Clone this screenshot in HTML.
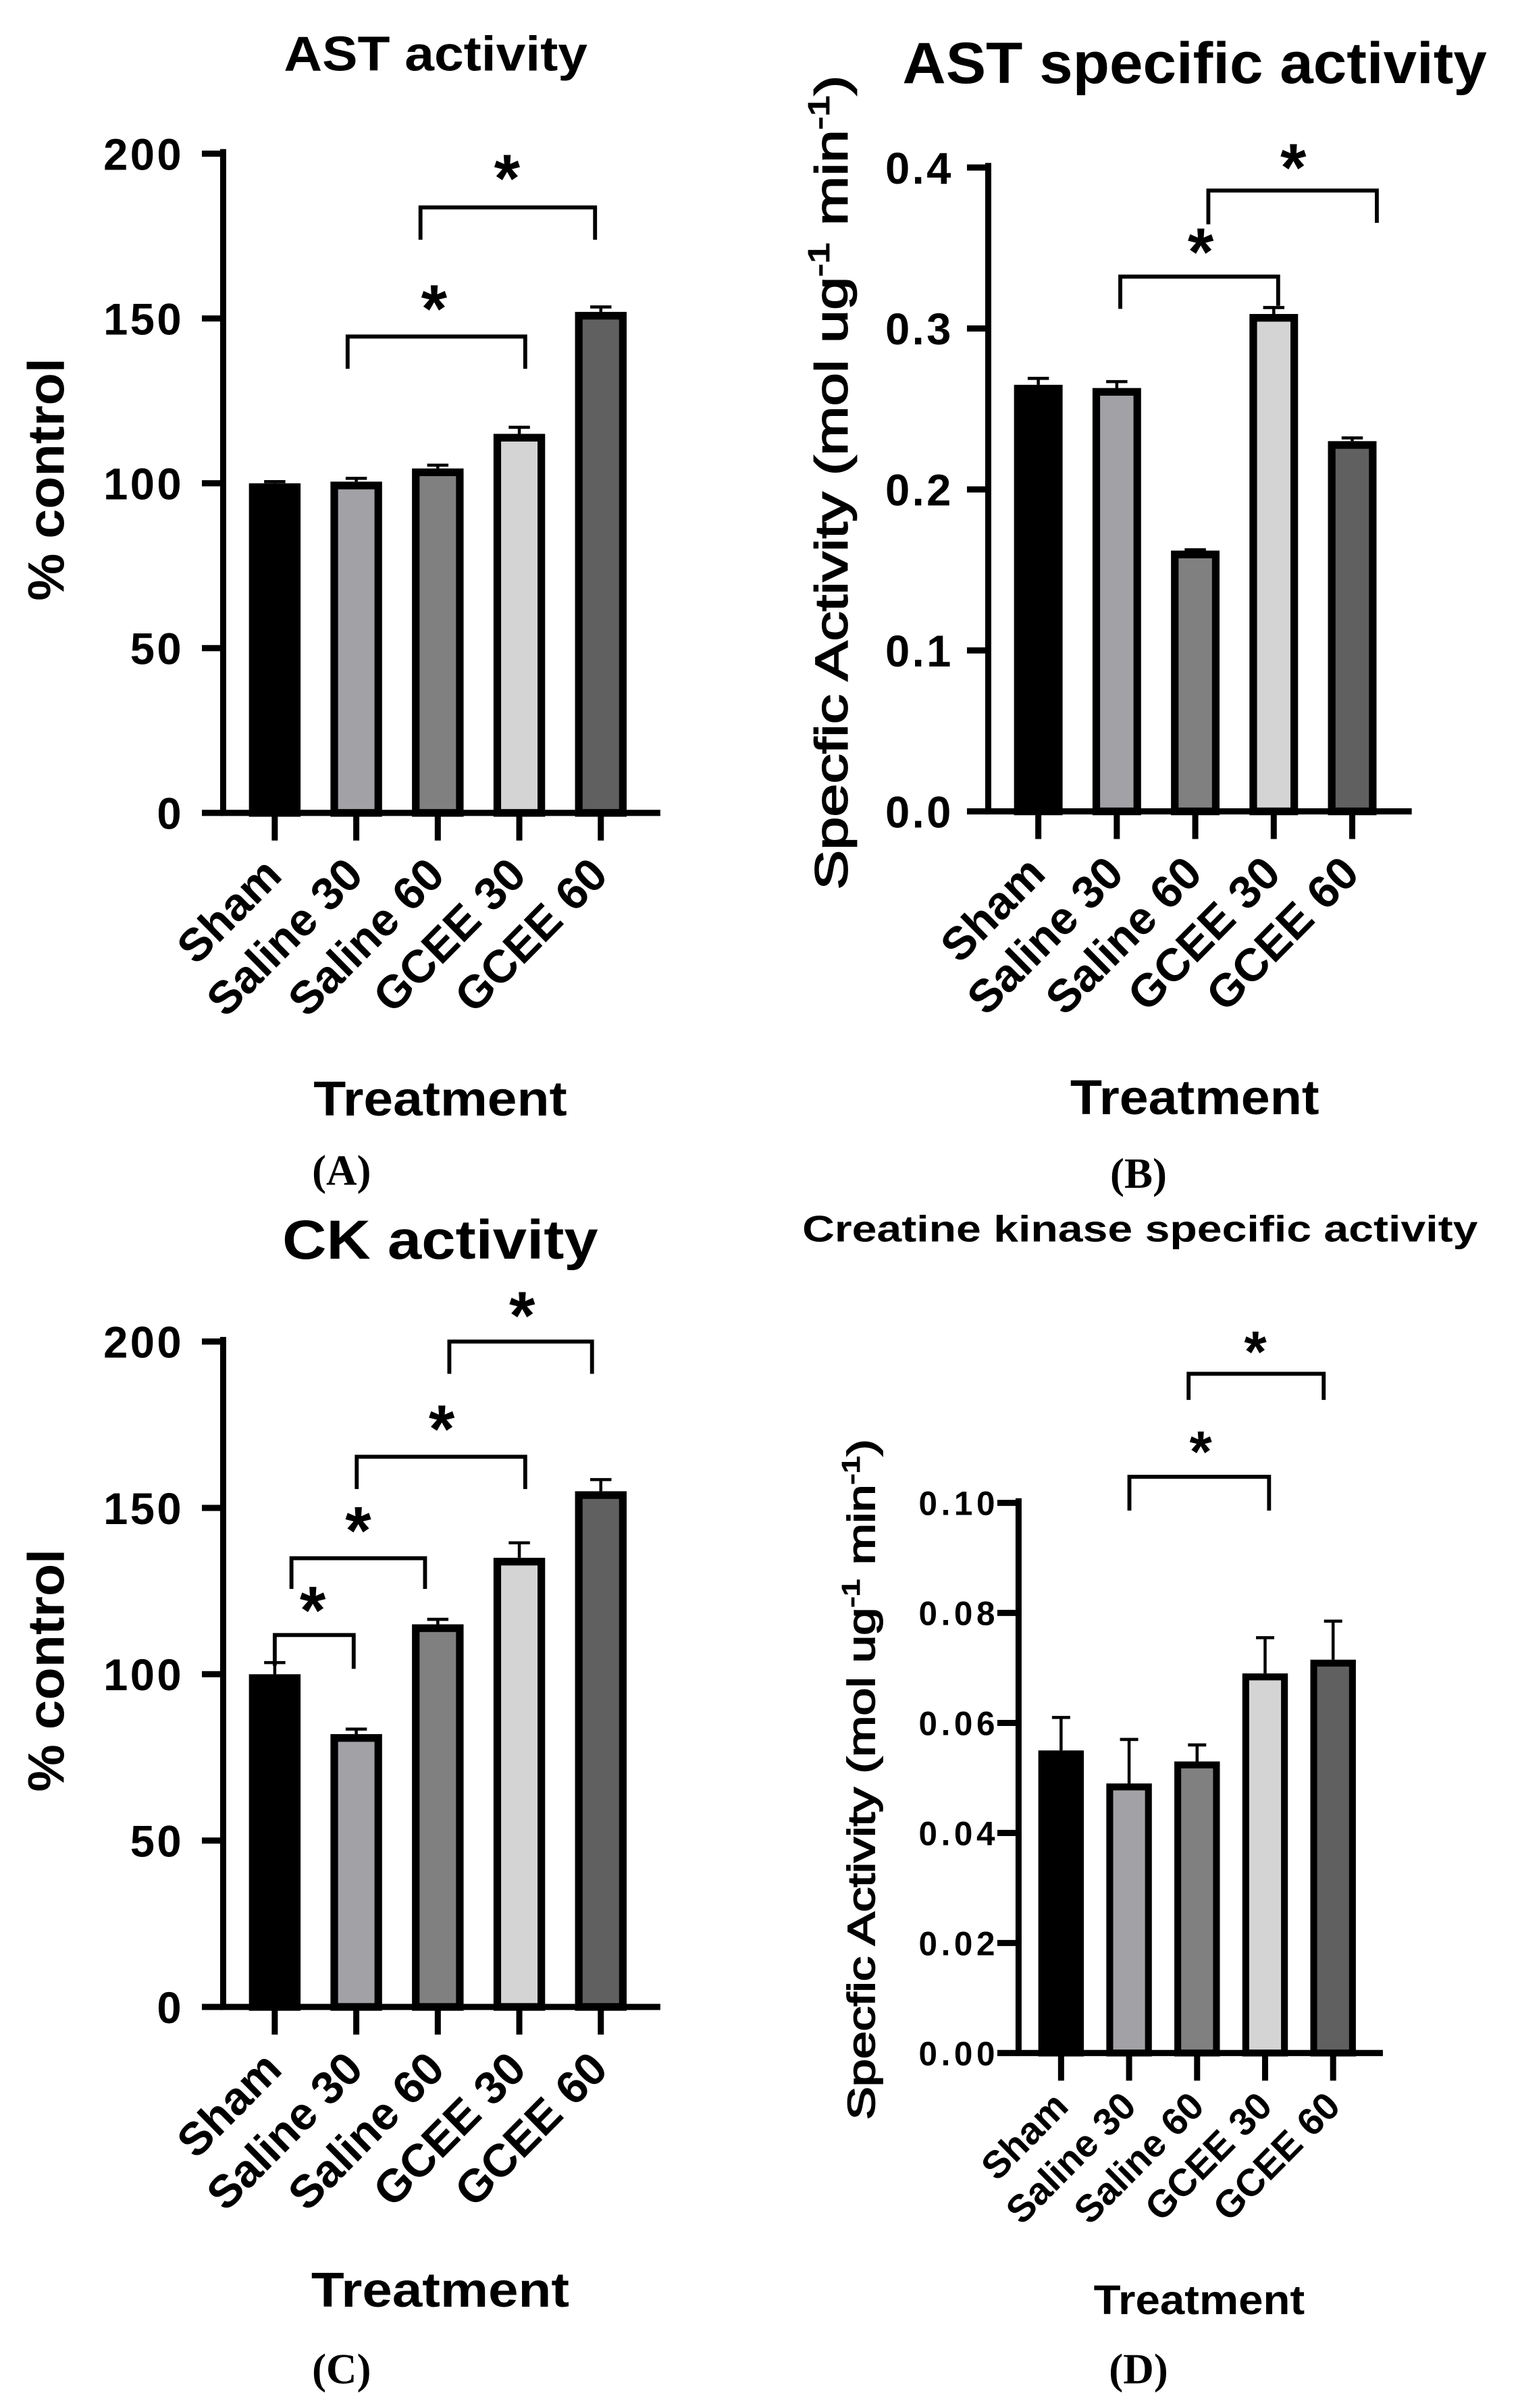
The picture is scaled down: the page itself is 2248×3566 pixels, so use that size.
<!DOCTYPE html>
<html><head><meta charset="utf-8"><style>
html,body{margin:0;padding:0;background:#fff}
svg{display:block}
text{font-family:"Liberation Sans",Arial,sans-serif;font-weight:bold;fill:#000}
.ser{font-family:"Liberation Serif","Times New Roman",serif;font-weight:bold}
</style></head><body>
<svg id="fig" width="2248" height="3566" viewBox="0 -1 1000 1567" preserveAspectRatio="none" xmlns="http://www.w3.org/2000/svg"></svg>
<script>
const categories = ["Sham","Saline 30","Saline 60","GCEE 30","GCEE 60"];
const fills = ["#000000","#a1a1a6","#808080","#d4d4d4","#606060"];

const valuesA = [100, 100.5, 104.5, 115, 152];
const errorsA = [0.5, 1, 1, 2, 1.5];
const ticksA = [0, 50, 100, 150, 200];
const tickLabelsA = ["0","50","100","150","200"];

const valuesB = [0.265, 0.263, 0.162, 0.309, 0.230];
const errorsB = [0.004, 0.004, 0.0005, 0.004, 0.002];
const ticksB = [0, 0.1, 0.2, 0.3, 0.4];
const tickLabelsB = ["0.0","0.1","0.2","0.3","0.4"];

const valuesC = [100, 82, 115, 135, 155];
const errorsC = [3.5, 1.5, 1.5, 4.5, 3.5];
const ticksC = [0, 50, 100, 150, 200];
const tickLabelsC = ["0","50","100","150","200"];

const valuesD = [0.055, 0.049, 0.053, 0.069, 0.0715];
const errorsD = [0.006, 0.008, 0.003, 0.0065, 0.007];
const ticksD = [0, 0.02, 0.04, 0.06, 0.08, 0.10];
const tickLabelsD = ["0.00","0.02","0.04","0.06","0.08","0.10"];

const NS = "http://www.w3.org/2000/svg";
const svg = document.getElementById("fig");
function mk(tag, attrs, parent, txt){
  const e = document.createElementNS(NS, tag);
  for (const k in attrs) e.setAttribute(k, attrs[k]);
  if (txt !== undefined) e.textContent = txt;
  (parent || svg).appendChild(e);
  return e;
}

function panel(p){
  const g = mk("g", {});
  
  
  const y = v => p.y0 - (v - p.min) / (p.max - p.min) * (p.y0 - p.yTop);
  const x = i => p.x0 + i * p.step;
  p.values.forEach((v, i) => {
    const bw = p.bw, sw = p.bs;
    const r = mk("rect", {x: x(i) - bw/2 + sw/2, y: y(v) + sw/2, width: bw - sw, height: p.y0 - y(v) - sw/2, fill: fills[i], stroke: "#000", "stroke-width": sw}, g);
    
    
    const e = p.errors[i];
    const ep = mk("path", {d: `M${x(i)} ${y(v)} V${y(v + e)} M${x(i) - p.cap} ${y(v + e)} H${x(i) + p.cap}`, stroke: "#000", "stroke-width": 2, fill: "none"}, g);
    
    
  });
  const ax = mk("path", {d: `M${p.ax} ${p.yTop - 1} V${p.y0} H${p.axEnd}`, stroke: "#000", "stroke-width": 4, fill: "none", "stroke-linecap": "square"}, g);
  
  
  p.ticks.forEach((t, i) => {
    mk("line", {x1: p.ax - 14, x2: p.ax, y1: y(t), y2: y(t), stroke: "#000", "stroke-width": 4}, g);
    const tl = mk("text", {x: p.tlx, y: y(t) + p.tfs * 0.36, "text-anchor": "end", "font-size": p.tfs, "letter-spacing": p.tls}, g, p.tickLabels[i]);
    
    
  });
  categories.forEach((c, i) => {
    mk("line", {x1: x(i), x2: x(i), y1: p.y0, y2: p.y0 + 18, stroke: "#000", "stroke-width": 4}, g);
    const ex = x(i) + 6, ey = p.y0 + p.lblDy;
    const t = mk("text", {x: ex, y: ey, "text-anchor": "end", "font-size": p.cfs, transform: `rotate(-45 ${ex} ${ey})`}, g, c);
    
    
  });
  p.brackets.forEach(b => {
    const bp = mk("path", {d: `M${b[0]} ${b[3]} V${b[2]} H${b[1]} V${b[4]}`, stroke: "#000", "stroke-width": 2.6, fill: "none"}, g);
    
    
    const st = mk("text", {x: b[5], y: b[6] + p.sfs * 0.57, "text-anchor": "middle", "font-size": p.sfs}, g, "*");
    
    
  });
  const tt = mk("text", {x: p.title[1], y: p.title[2], "text-anchor": "middle", "font-size": p.title[3], textLength: p.title[4], lengthAdjust: "spacingAndGlyphs"}, g, p.title[0]);
  
  
  const yl = mk("text", {x: 0, y: 0, "text-anchor": "middle", "font-size": p.ylab[3], textLength: p.ylab[4], lengthAdjust: "spacingAndGlyphs", transform: `translate(${p.ylab[1]} ${p.ylab[2]}) rotate(-90)`}, g);
  if (p.ylab[0] === "sa") {
    mk("tspan", {}, yl, "Specfic Activity (mol ug");
    mk("tspan", {dy: -p.ylab[3]*0.4, "font-size": p.ylab[3]*0.65}, yl, "-1");
    mk("tspan", {dy: p.ylab[3]*0.4}, yl, " min");
    mk("tspan", {dy: -p.ylab[3]*0.4, "font-size": p.ylab[3]*0.65}, yl, "-1");
    mk("tspan", {dy: p.ylab[3]*0.4}, yl, ")");
    yl.setAttribute("style", "font-weight:normal;stroke:#000;stroke-width:0.8");
  } else {
    yl.textContent = p.ylab[0];
  }
  
  
  const xl = mk("text", {x: p.xlab[0], y: p.xlab[1], "text-anchor": "middle", "font-size": p.xlab[2], textLength: p.xlab[3], lengthAdjust: "spacingAndGlyphs"}, g, "Treatment");
  
  
  const pl = mk("text", {x: p.letter[1], y: p.letter[2], "text-anchor": "middle", "font-size": 28, class: "ser"}, g, p.letter[0]);
  
  
}

panel({id:"panel-a", values: valuesA, errors: errorsA, ticks: ticksA, tickLabels: tickLabelsA,
  min:0, max:200, y0:528, yTop:99, x0:181, step:53.7, bw:34, bs:5, cap:7,
  ax:147, axEnd:433, tlx:121, tfs:29, tls:1.5, cfs:30, lblDy:42, sfs:44,
  brackets:[[229,346,218,239,239,286,190],[277,392,134,155,155,334,105]],
  title:["AST activity",287,45,32,200], ylab:["% control",42,311,34,158],
  xlab:[290,725,32,167], letter:["(A)",225,770]});

panel({id:"panel-b", values: valuesB, errors: errorsB, ticks: ticksB, tickLabels: tickLabelsB,
  min:0, max:0.4, y0:527, yTop:108, x0:684, step:51.7, bw:32, bs:5, cap:7,
  ax:651, axEnd:928, tlx:628, tfs:29, tls:1.5, cfs:30, lblDy:42, sfs:44,
  brackets:[[738,842,179,200,198,791,153],[796,907,123,145,144,852,98]],
  title:["AST specific activity",787,53,38,385], ylab:["sa",558,313,30,530],
  xlab:[787,724,32,164], letter:["(B)",750,772]});

panel({id:"panel-c", values: valuesC, errors: errorsC, ticks: ticksC, tickLabels: tickLabelsC,
  min:0, max:200, y0:1305, yTop:872, x0:181, step:53.7, bw:34, bs:5, cap:7,
  ax:147, axEnd:433, tlx:121, tfs:29, tls:1.5, cfs:30, lblDy:42, sfs:44,
  brackets:[[181,233,1063,1083,1085,206,1037],[192,280,1013,1033,1033,236,985],[235,346,947,968,968,291,919],[296,390,872,893,893,344,845]],
  title:["CK activity",290,818,36,208], ylab:["% control",42,1086,34,158],
  xlab:[290,1500,32,170], letter:["(C)",225,1550]});

panel({id:"panel-d", values: valuesD, errors: errorsD, ticks: ticksD, tickLabels: tickLabelsD,
  min:0, max:0.10, y0:1335, yTop:977, x0:699, step:44.8, bw:30, bs:4.5, cap:6,
  ax:671, axEnd:909, tlx:658, tfs:22, tls:2.5, cfs:25, lblDy:36, sfs:38,
  brackets:[[744,836,960,982,982,791,935],[783,872,893,910,910,827,870]],
  title:["Creatine kinase specific activity",751,807,24,445], ylab:["sa",576,1157,25,443],
  xlab:[790,1505,27,139], letter:["(D)",750,1550]});
</script>
</body></html>
